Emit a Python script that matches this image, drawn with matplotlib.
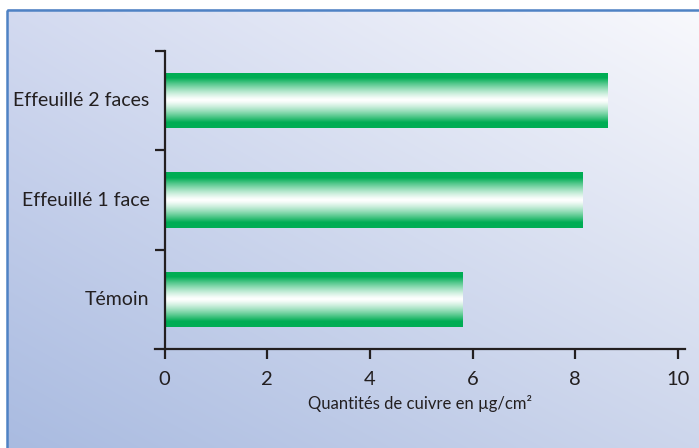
import numpy as np
import matplotlib
matplotlib.use('Agg')
import matplotlib.pyplot as plt
from matplotlib.patches import Rectangle
from matplotlib.transforms import offset_copy

# copper deposit per treatment
categories = ["Témoin", "Effeuillé 1 face", "Effeuillé 2 faces"]
values = [5.79, 8.13, 8.63]
xticks = [0, 2, 4, 6, 8, 10]
xlabel = "Quantités de cuivre en µg/cm²"

ink = "#231f20"
green = np.array([0, 173, 84]) / 255.0
plt.rcParams['font.family'] = ['Lato', 'DejaVu Sans']

fig = plt.figure(figsize=(6.99, 4.48), dpi=100)

# diagonal blue background with frame
bg = fig.add_axes([0, 0, 1, 1])
bg.axis('off')
u = np.linspace(0, 1, 200)
v = np.linspace(0, 1, 200)
U, V = np.meshgrid(u, v)
tl = np.array([211, 218, 240]) / 255.0
tr = np.array([250, 250, 253]) / 255.0
bl = np.array([168, 186, 224]) / 255.0
br = np.array([205, 214, 236]) / 255.0
grad = ((1 - U)[..., None] * (1 - V)[..., None] * tl + U[..., None] * (1 - V)[..., None] * tr
        + (1 - U)[..., None] * V[..., None] * bl + U[..., None] * V[..., None] * br)
bg.imshow(grad, extent=(7, 720, 460, 10), aspect='auto', interpolation='bilinear')
bg.add_patch(Rectangle((7, 10), 720, 460, fill=False, edgecolor="#4f82c4", lw=1.8))
bg.set_xlim(0, 699)
bg.set_ylim(448, 0)

ax = fig.add_axes([155 / 699, 1 - 349 / 448, 530 / 699, 298 / 448])
ax.patch.set_alpha(0)
ypos = np.arange(len(categories))
bars = ax.barh(ypos, values, height=0.56, color='none', edgecolor='none')

# green-white-green shading inside each bar
t = np.abs(np.linspace(-1, 1, 120))
w = np.clip(t / 0.8, 0, 1) ** 1.3
shade = (1 - w)[:, None] * np.ones(3) + w[:, None] * green
shade = shade[:, None, :]
for b in bars:
    x0, y0, bw, bh = b.get_x(), b.get_y(), b.get_width(), b.get_height()
    im = ax.imshow(shade, extent=(x0, x0 + bw, y0, y0 + bh), aspect='auto',
                   interpolation='bilinear', zorder=2)
    im.set_clip_path(b)

ax.set_xlim(-0.19, 10.14)
ax.set_ylim(-0.5, 2.5)
for s in ['top', 'right']:
    ax.spines[s].set_visible(False)
ax.spines['left'].set_position(('data', 0))
for s in ['left', 'bottom']:
    ax.spines[s].set_color(ink)
    ax.spines[s].set_linewidth(1.6)

ax.set_xticks(xticks)
ax.set_xticklabels([str(x) for x in xticks])
ax.set_yticks([0.5, 1.5, 2.5])
ax.set_yticklabels([])
ax.tick_params(axis='both', colors=ink, width=1.6, length=7, labelsize=14.5)
ax.tick_params(axis='x', pad=9)

# category names, set a fixed distance left of the value axis
lab_tr = offset_copy(ax.transData, fig=fig, x=-11, y=0, units='points')
for y, c in zip(ypos, categories):
    ax.text(0, y, c, ha='right', va='center', fontsize=14, color=ink, transform=lab_tr)
ax.set_xlabel(xlabel, fontsize=12, color=ink, labelpad=5)

fig.savefig("out.png", dpi=100)
